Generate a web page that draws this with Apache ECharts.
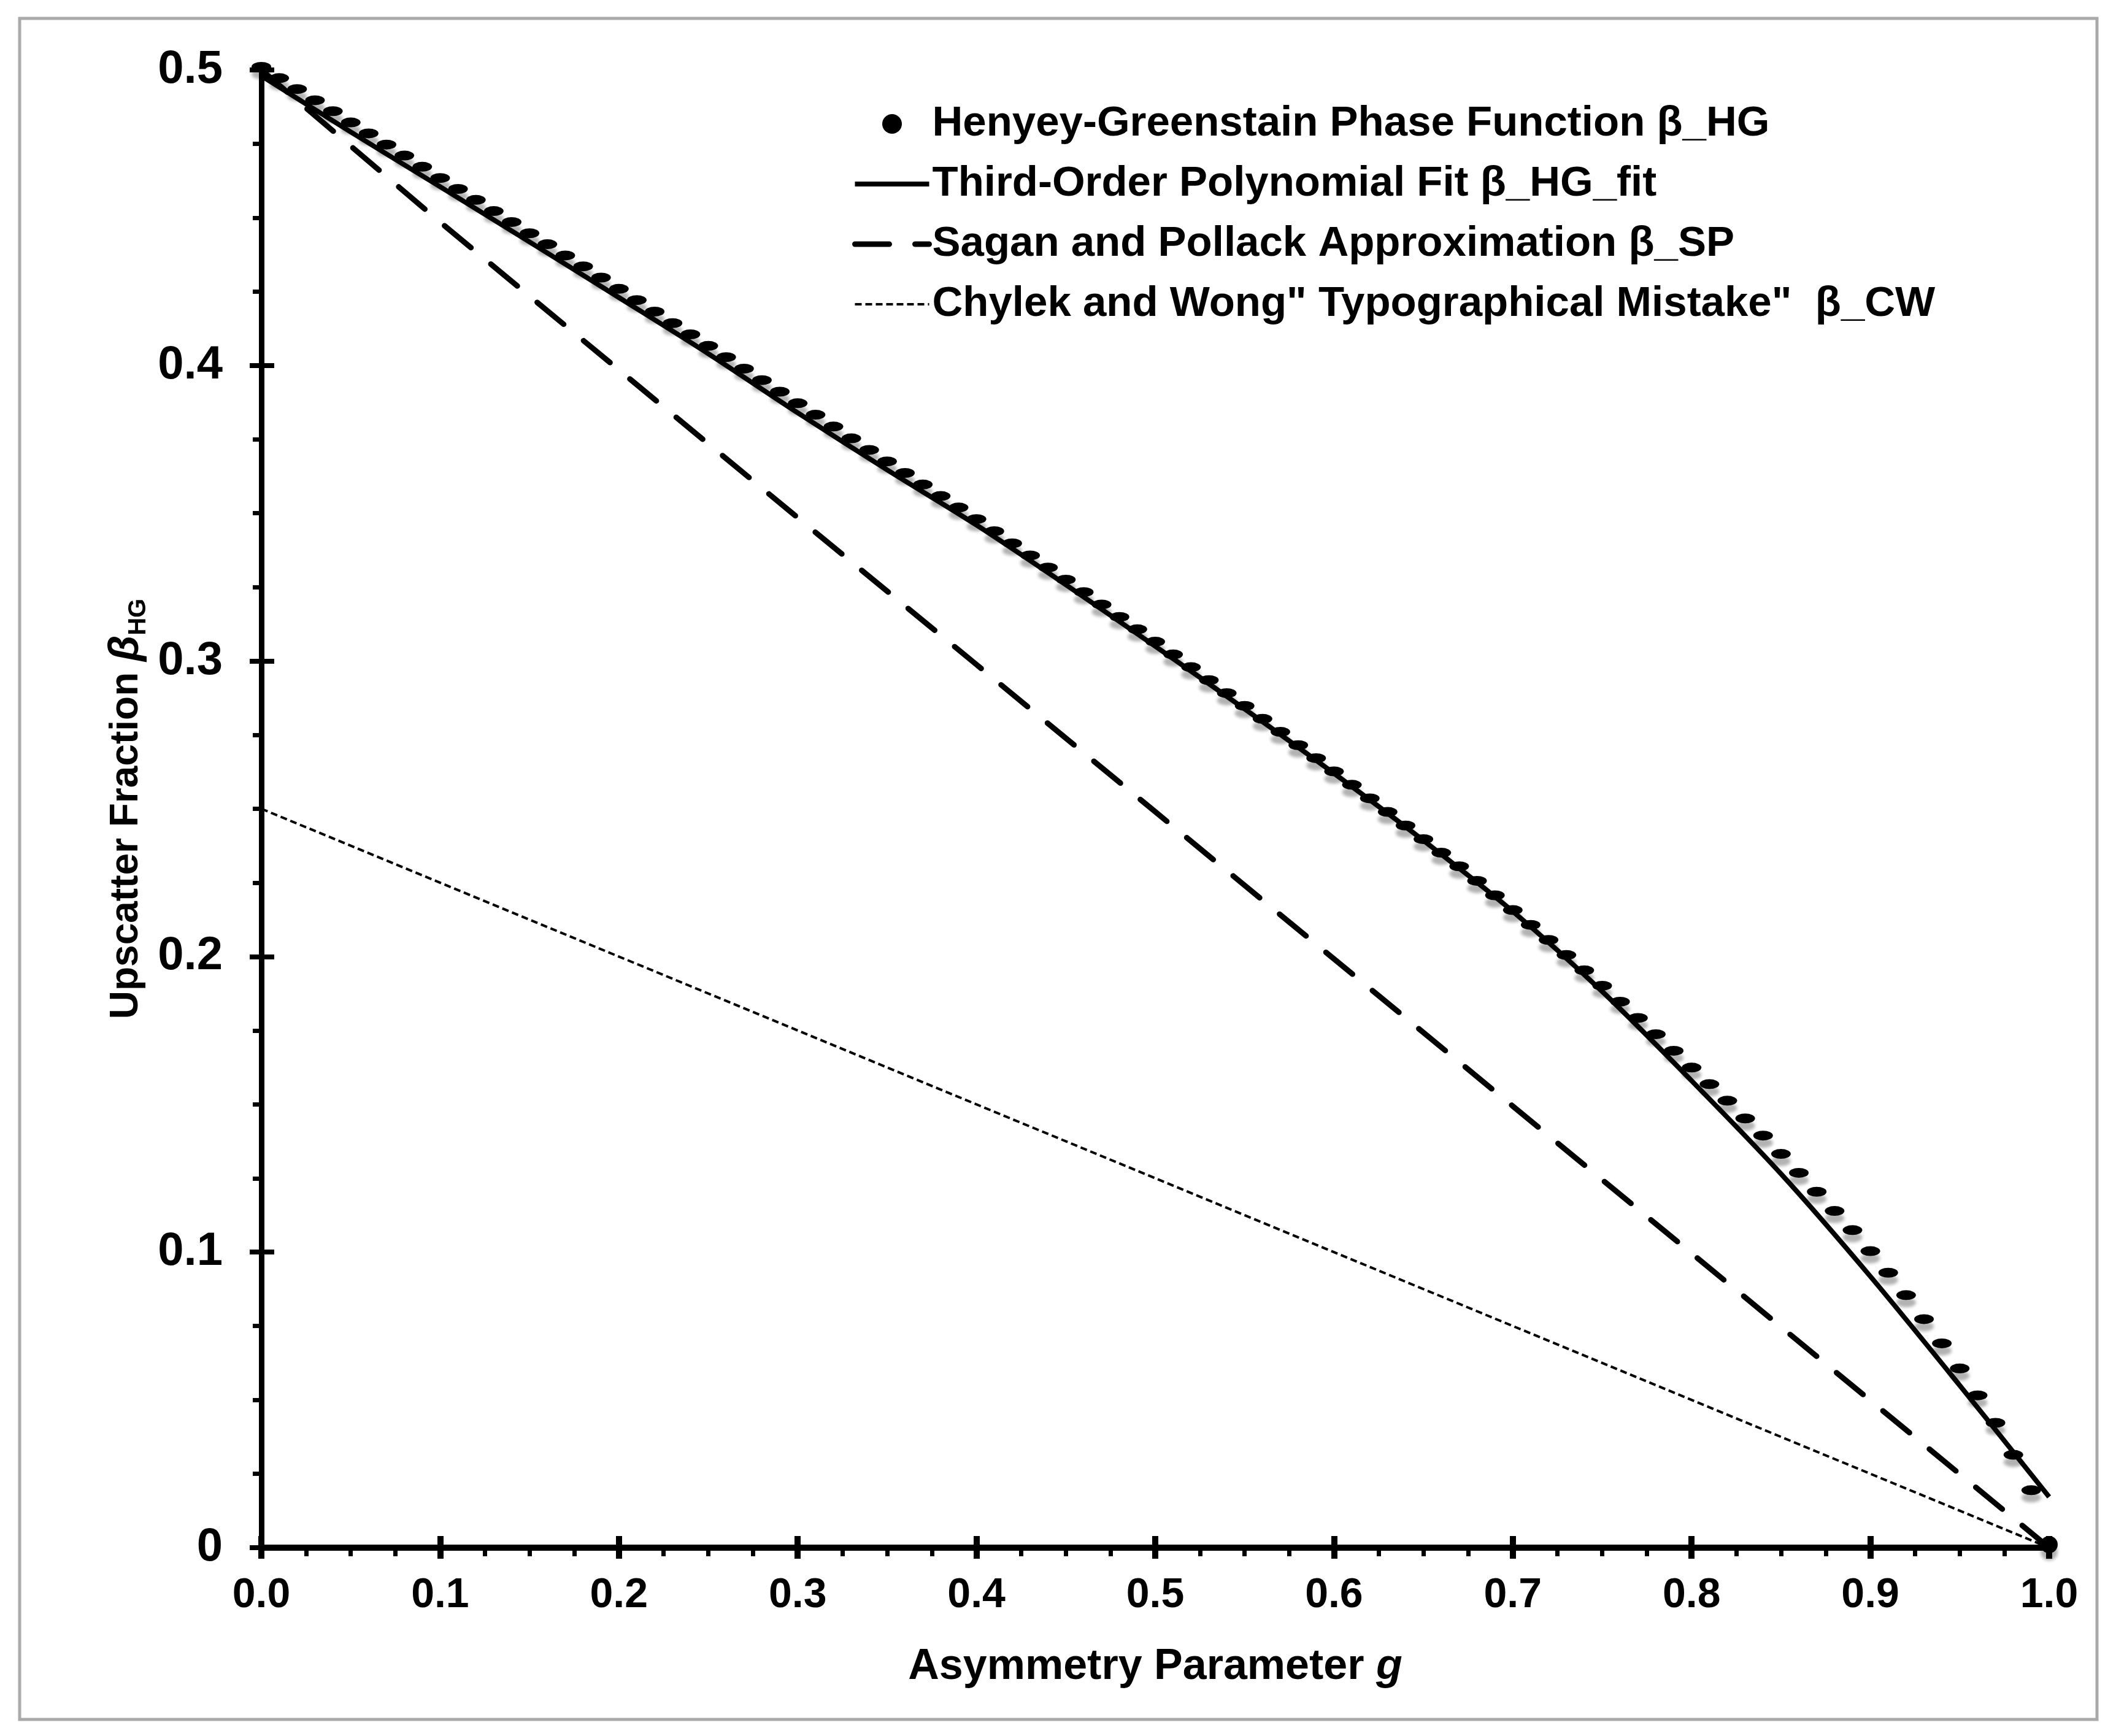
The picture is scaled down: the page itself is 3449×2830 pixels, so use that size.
<!doctype html>
<html>
<head>
  <meta charset="utf-8">
  <title>Upscatter Fraction</title>
  <script src="https://cdn.jsdelivr.net/npm/echarts@6/dist/echarts.min.js"></script>
  <style>
    html, body { margin: 0; padding: 0; background: #fff; }
    #main { width: 3449px; height: 2830px; }
  </style>
</head>
<body>
  <div id="main"></div>
  <script>
  // asymmetry parameter g for the Henyey-Greenstein points
  var hgG = [
    0.00, 0.01, 0.02, 0.03, 0.04, 0.05, 0.06, 0.07, 0.08, 0.09,
    0.10, 0.11, 0.12, 0.13, 0.14, 0.15, 0.16, 0.17, 0.18, 0.19,
    0.20, 0.21, 0.22, 0.23, 0.24, 0.25, 0.26, 0.27, 0.28, 0.29,
    0.30, 0.31, 0.32, 0.33, 0.34, 0.35, 0.36, 0.37, 0.38, 0.39,
    0.40, 0.41, 0.42, 0.43, 0.44, 0.45, 0.46, 0.47, 0.48, 0.49,
    0.50, 0.51, 0.52, 0.53, 0.54, 0.55, 0.56, 0.57, 0.58, 0.59,
    0.60, 0.61, 0.62, 0.63, 0.64, 0.65, 0.66, 0.67, 0.68, 0.69,
    0.70, 0.71, 0.72, 0.73, 0.74, 0.75, 0.76, 0.77, 0.78, 0.79,
    0.80, 0.81, 0.82, 0.83, 0.84, 0.85, 0.86, 0.87, 0.88, 0.89,
    0.90, 0.91, 0.92, 0.93, 0.94, 0.95, 0.96, 0.97, 0.98, 0.99,
    1.00
  ];
  var hgBeta = [
    0.5000, 0.4962, 0.4925, 0.4887, 0.4850, 0.4812, 0.4775, 0.4737, 0.4700, 0.4662,
    0.4624, 0.4587, 0.4550, 0.4512, 0.4475, 0.4437, 0.4400, 0.4362, 0.4325, 0.4287,
    0.4249, 0.4211, 0.4172, 0.4133, 0.4095, 0.4056, 0.4018, 0.3979, 0.3940, 0.3901,
    0.3862, 0.3823, 0.3783, 0.3743, 0.3704, 0.3665, 0.3626, 0.3587, 0.3548, 0.3509,
    0.3470, 0.3429, 0.3388, 0.3347, 0.3306, 0.3265, 0.3223, 0.3181, 0.3139, 0.3097,
    0.3055, 0.3012, 0.2969, 0.2925, 0.2881, 0.2838, 0.2794, 0.2750, 0.2705, 0.2661,
    0.2616, 0.2571, 0.2525, 0.2479, 0.2433, 0.2387, 0.2341, 0.2295, 0.2246, 0.2197,
    0.2147, 0.2097, 0.2046, 0.1995, 0.1943, 0.1891, 0.1837, 0.1782, 0.1727, 0.1671,
    0.1614, 0.1558, 0.1502, 0.1442, 0.1384, 0.1322, 0.1258, 0.1194, 0.1129, 0.1064,
    0.0993, 0.0920, 0.0844, 0.0763, 0.0681, 0.0596, 0.0505, 0.0412, 0.0304, 0.0184,
    0.0000
  ];

  // third-order polynomial fit
  var fitG    = [0.00, 0.05, 0.10, 0.15, 0.20, 0.25, 0.30, 0.35, 0.40, 0.45, 0.50,
                 0.55, 0.60, 0.65, 0.70, 0.75, 0.80, 0.85, 0.90, 0.95, 1.00];
  var fitBeta = [0.498, 0.479, 0.4605, 0.4418, 0.423, 0.404, 0.384, 0.3647, 0.346, 0.3258, 0.305,
                 0.2838, 0.262, 0.2393, 0.2153, 0.1882, 0.158, 0.1265, 0.0918, 0.0549, 0.0172];

  // Sagan and Pollack approximation (dashed)
  var spG    = [0.0, 0.1, 0.2, 0.3, 0.4, 0.5, 0.6, 0.7, 0.8, 0.9, 1.0];
  var spBeta = [0.500, 0.4485, 0.3985, 0.3485, 0.2988, 0.249, 0.1992, 0.1494, 0.0996, 0.0498, 0.000];

  // Chylek and Wong (dotted)
  var cwG    = [0.0, 1.0];
  var cwBeta = [0.25, 0.0];

  var names = [
    'Henyey-Greenstain Phase Function \u03b2_HG',
    'Third-Order Polynomial Fit \u03b2_HG_fit',
    'Sagan and Pollack Approximation \u03b2_SP',
    'Chylek and Wong" Typographical Mistake"  \u03b2_CW'
  ];

  function pairs(xs, ys) {
    var out = [];
    for (var i = 0; i < xs.length; i++) {
      out.push([xs[i], ys[i]]);
    }
    return out;
  }

  var font = "'Liberation Sans', Arial, Helvetica, sans-serif";

  // line styles, shared by the series and their legend icons
  var fitLine = { color: '#000', width: 8, type: 'solid' };
  var spLine  = { color: '#000', width: 9, type: [56, 42], cap: 'round' };
  var cwLine  = { color: '#000', width: 4, type: [11, 6] };
  var noMarker = { color: 'rgba(0,0,0,0)', borderColor: 'rgba(0,0,0,0)', borderWidth: 0 };

  function xAxisBase() {
    return {
      type: 'value', min: 0, max: 1, interval: 0.1,
      position: 'bottom', gridIndex: 0,
      splitLine: { show: false }
    };
  }
  function yAxisBase() {
    return {
      type: 'value', min: 0, max: 0.5, interval: 0.1,
      position: 'left', gridIndex: 0,
      splitLine: { show: false }
    };
  }

  var xMain = xAxisBase();
  xMain.name = 'Asymmetry Parameter {it|g}';
  xMain.nameLocation = 'middle';
  xMain.nameGap = 160;
  xMain.nameTextStyle = {
    fontFamily: font, fontSize: 70, fontWeight: 'bold', color: '#000',
    rich: { it: { fontFamily: font, fontSize: 70, fontWeight: 'bold', fontStyle: 'italic', color: '#000' } }
  };
  xMain.axisLine = { show: true, lineStyle: { color: '#000', width: 10 } };
  xMain.axisTick = { show: true, length: 18, lineStyle: { color: '#000', width: 10 } };
  xMain.minorTick = { show: true, splitNumber: 4, length: 14, lineStyle: { color: '#000', width: 7 } };
  xMain.axisLabel = {
    margin: 44, fontFamily: font, fontSize: 68, fontWeight: 'bold', color: '#000',
    formatter: function (v) { return v.toFixed(1); }
  };

  var xInner = xAxisBase();
  xInner.axisLine = { show: false };
  xInner.axisLabel = { show: false };
  xInner.axisTick = { show: true, inside: true, length: 19, lineStyle: { color: '#000', width: 10 } };

  var yMain = yAxisBase();
  yMain.name = 'Upscatter Fraction {b|\u03b2}{s|HG}';
  yMain.nameLocation = 'middle';
  yMain.nameRotate = 90;
  yMain.nameGap = 180;
  yMain.nameTextStyle = {
    fontFamily: font, fontSize: 64, fontWeight: 'bold', color: '#000', lineHeight: 80,
    rich: {
      b: { fontFamily: font, fontSize: 68, fontWeight: 'bold', fontStyle: 'italic', color: '#000', lineHeight: 80 },
      s: { fontFamily: font, fontSize: 40, fontWeight: 'bold', color: '#000', lineHeight: 40, verticalAlign: 'bottom' }
    }
  };
  yMain.axisLine = { show: true, lineStyle: { color: '#000', width: 9 } };
  yMain.axisTick = { show: true, length: 19, lineStyle: { color: '#000', width: 8 } };
  yMain.minorTick = { show: true, splitNumber: 4, length: 14, lineStyle: { color: '#000', width: 7 } };
  yMain.axisLabel = {
    margin: 63, fontFamily: font, fontSize: 76, fontWeight: 'bold', color: '#000',
    padding: [10, 0, 0, 0],
    formatter: function (v) { return v === 0 ? '0' : v.toFixed(1); }
  };

  var yInner = yAxisBase();
  yInner.axisLine = { show: false };
  yInner.axisLabel = { show: false };
  yInner.axisTick = { show: true, inside: true, length: 21, lineStyle: { color: '#000', width: 8 } };

  var option = {
    animation: false,
    backgroundColor: '#fff',
    textStyle: { fontFamily: font },
    grid: { left: 426, right: 109, top: 114, bottom: 307, containLabel: false },
    graphic: [{
      type: 'rect', z: -10,
      shape: { x: 32, y: 30, width: 3386, height: 2773 },
      style: { fill: 'none', stroke: '#aaaaaa', lineWidth: 5 }
    }],
    legend: {
      orient: 'vertical',
      left: 1384,
      top: 162,
      itemWidth: 121,
      itemHeight: 32,
      itemGap: 28,
      selectedMode: false,
      textStyle: { fontFamily: font, fontSize: 69, fontWeight: 'bold', color: '#000', lineHeight: 70 },
      data: [
        { name: names[0], icon: 'circle',
          itemStyle: { color: '#000', opacity: 1, shadowBlur: 0, shadowOffsetY: 0, shadowColor: 'rgba(0,0,0,0)' } },
        { name: names[1], lineStyle: fitLine, itemStyle: noMarker },
        { name: names[2], lineStyle: spLine, itemStyle: noMarker },
        { name: names[3], lineStyle: cwLine, itemStyle: noMarker }
      ]
    },
    xAxis: [xMain, xInner],
    yAxis: [yMain, yInner],
    series: [
      {
        name: names[3],
        type: 'line',
        data: pairs(cwG, cwBeta),
        symbol: 'none',
        clip: false,
        lineStyle: cwLine,
        itemStyle: { color: '#000' },
        z: 2
      },
      {
        name: names[2],
        type: 'line',
        data: pairs(spG, spBeta),
        symbol: 'none',
        clip: false,
        lineStyle: spLine,
        itemStyle: { color: '#000' },
        z: 3
      },
      {
        name: names[1],
        type: 'line',
        data: pairs(fitG, fitBeta),
        symbol: 'none',
        smooth: 0.3,
        clip: false,
        lineStyle: fitLine,
        itemStyle: { color: '#000' },
        z: 4
      },
      {
        name: names[0],
        type: 'scatter',
        data: pairs(hgG, hgBeta),
        symbol: 'circle',
        symbolSize: function (val) {
          return val[0] === 1 ? 28 : [32, 16];
        },
        symbolOffset: [0, -5],
        clip: false,
        itemStyle: {
          color: '#000',
          opacity: 1,
          shadowColor: 'rgba(0, 0, 0, 0.3)',
          shadowBlur: 5,
          shadowOffsetY: 12
        },
        z: 5
      }
    ]
  };

  var myChart = echarts.init(document.getElementById('main'));
  myChart.setOption(option);
  </script>
</body>
</html>
